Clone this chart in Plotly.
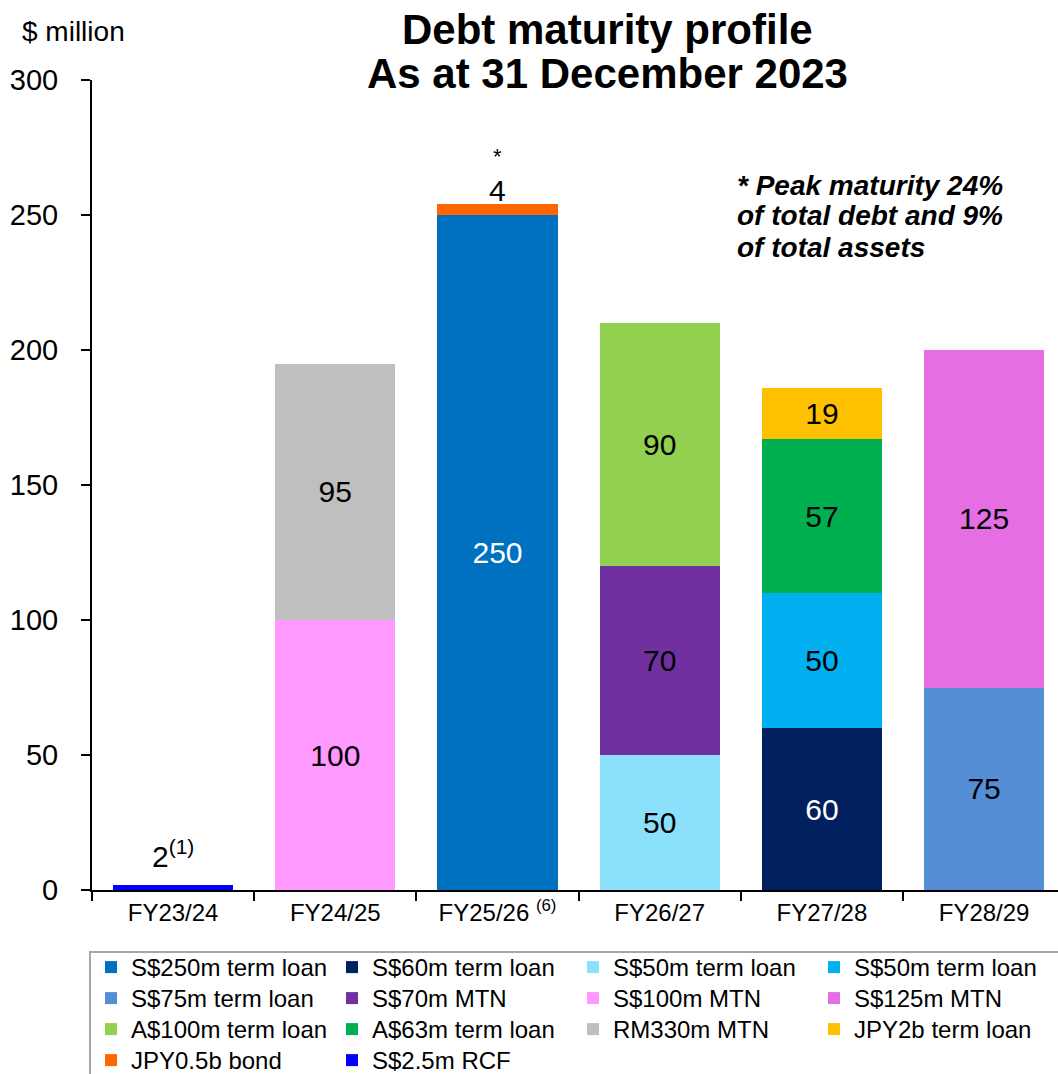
import plotly.graph_objects as go

categories = ["FY23/24", "FY24/25", "FY25/26 <sup>(6)</sup>", "FY26/27", "FY27/28", "FY28/29"]

series_names = [
    "S$250m term loan", "S$60m term loan", "S$50m term loan", "S$50m term loan",
    "S$75m term loan", "S$70m MTN", "S$100m MTN", "S$125m MTN",
    "A$100m term loan", "A$63m term loan", "RM330m MTN", "JPY2b term loan",
    "JPY0.5b bond", "S$2.5m RCF",
]
s250_term = [None, None, 250, None, None, None]
s60_term = [None, None, None, None, 60, None]
s50_term_a = [None, None, None, 50, None, None]
s50_term_b = [None, None, None, None, 50, None]
s75_term = [None, None, None, None, None, 75]
s70_mtn = [None, None, None, 70, None, None]
s100_mtn = [None, 100, None, None, None, None]
s125_mtn = [None, None, None, None, None, 125]
a100_term = [None, None, None, 90, None, None]
a63_term = [None, None, None, None, 57, None]
rm330_mtn = [None, 95, None, None, None, None]
jpy2b_term = [None, None, None, None, 19, None]
jpy05_bond = [None, None, 4, None, None, None]
s25_rcf = [2, None, None, None, None, None]

series_values = [s250_term, s60_term, s50_term_a, s50_term_b, s75_term, s70_mtn,
                 s100_mtn, s125_mtn, a100_term, a63_term, rm330_mtn, jpy2b_term,
                 jpy05_bond, s25_rcf]
colors = ["#0070C0", "#002060", "#8BE0FB", "#00B0F0", "#558ED5", "#7030A0",
          "#FF99FF", "#E56EE5", "#92D050", "#00B050", "#BFBFBF", "#FFC000",
          "#FF6600", "#0000FF"]
text_colors = ["white", "white"] + ["black"] * 12
inside_label = [True] * 12 + [False, False]

peak_lines = ["* Peak maturity 24%", "of total debt and 9%", "of total assets"]

FONT = "Liberation Sans, Arial, sans-serif"

legend_ids = ["legend", "legend2", "legend3", "legend4"]

fig = go.Figure()
for i, (name, vals, col, tcol, lab) in enumerate(zip(series_names, series_values, colors, text_colors, inside_label)):
    fig.add_trace(go.Bar(
        name=name, x=categories, y=vals, marker=dict(color=col, line=dict(width=0)),
        text=[("" if v is None else str(v)) for v in vals] if lab else None,
        textposition="inside" if lab else "none",
        insidetextanchor="middle", textangle=0, constraintext="none",
        textfont=dict(size=30, color=tcol, family=FONT),
        hoverinfo="skip", legend=legend_ids[i // 4],
    ))

totals = [sum(v[i] for v in series_values if v[i] is not None) for i in range(len(categories))]

L, T, B = 92, 80, 184
W, H = 1058, 1074
pw = W - L
ph = H - T - B

def px_x(px):
    return (px - L) / pw

def px_y(py):
    return (H - B - py) / ph

annotations = [
    dict(text="<b>Debt maturity profile</b>", xref="paper", yref="paper", x=px_x(607), y=px_y(30),
         xanchor="center", yanchor="middle", showarrow=False, font=dict(size=42, color="black", family=FONT)),
    dict(text="<b>As at 31 December 2023</b>", xref="paper", yref="paper", x=px_x(607), y=px_y(73),
         xanchor="center", yanchor="middle", showarrow=False, font=dict(size=42, color="black", family=FONT)),
    dict(text="$ million", xref="paper", yref="paper", x=px_x(20), y=px_y(32),
         xanchor="left", yanchor="middle", showarrow=False, font=dict(size=28, color="black", family=FONT)),
    dict(text="4", x=categories[2], y=totals[2], xref="x", yref="y", yanchor="bottom", yshift=-5,
         showarrow=False, font=dict(size=30, color="black", family=FONT)),
    dict(text="*", x=categories[2], y=totals[2], xref="x", yref="y", yanchor="bottom", yshift=33,
         showarrow=False, font=dict(size=22, color="black", family=FONT)),
    dict(text="2<sup>(1)</sup>", x=categories[0], y=totals[0], xref="x", yref="y", yanchor="bottom", yshift=10,
         showarrow=False, font=dict(size=30, color="black", family=FONT)),
]
for j, line in enumerate(peak_lines):
    annotations.append(dict(text="<b><i>" + line + "</i></b>", xref="paper", yref="paper",
                            x=px_x(735), y=px_y(185 + 31 * j), xanchor="left", yanchor="middle",
                            showarrow=False, font=dict(size=28, color="black", family=FONT)))

legend_common = dict(orientation="h", xanchor="left", yanchor="top",
                     entrywidth=196, entrywidthmode="pixels", traceorder="normal",
                     font=dict(size=24, color="black", family=FONT),
                     borderwidth=0, bgcolor="rgba(0,0,0,0)", itemclick=False, itemdoubleclick=False)
legend_layout = {}
for r, lid in enumerate(legend_ids):
    legend_layout[lid] = dict(legend_common, x=px_x(91), y=px_y(945 + 31 * r))

fig.update_layout(
    width=W, height=H,
    margin=dict(l=L, r=0, t=T, b=B, autoexpand=False),
    paper_bgcolor="white", plot_bgcolor="white",
    barmode="stack", bargap=0.26,
    font=dict(family=FONT, color="black"),
    showlegend=True,
    annotations=annotations,
    shapes=[dict(type="rect", xref="paper", yref="paper", x0=px_x(90), x1=px_x(1061),
                 y0=px_y(952), y1=px_y(1090), line=dict(color="#A6A6A6", width=2), layer="below")],
    **legend_layout,
)
fig.update_xaxes(
    type="category", range=[-0.5, -0.5 + pw / 162.2],
    showline=True, linecolor="black", linewidth=2,
    ticks="outside", tickson="boundaries", ticklen=9, tickwidth=2, tickcolor="black",
    tickfont=dict(size=24, color="black", family=FONT), showgrid=False, zeroline=False,
    fixedrange=True,
)
fig.update_yaxes(
    range=[0, 300], tickvals=[0, 50, 100, 150, 200, 250, 300],
    showline=True, linecolor="black", linewidth=2,
    ticks="outside", ticklen=9, tickwidth=2, tickcolor="black",
    tickfont=dict(size=29, color="black", family=FONT), showgrid=False, zeroline=False,
    ticklabelstandoff=17, fixedrange=True,
)

fig.write_html("out.html", config={"displayModeBar": False},
               post_script="document.body.style.margin='0';")
